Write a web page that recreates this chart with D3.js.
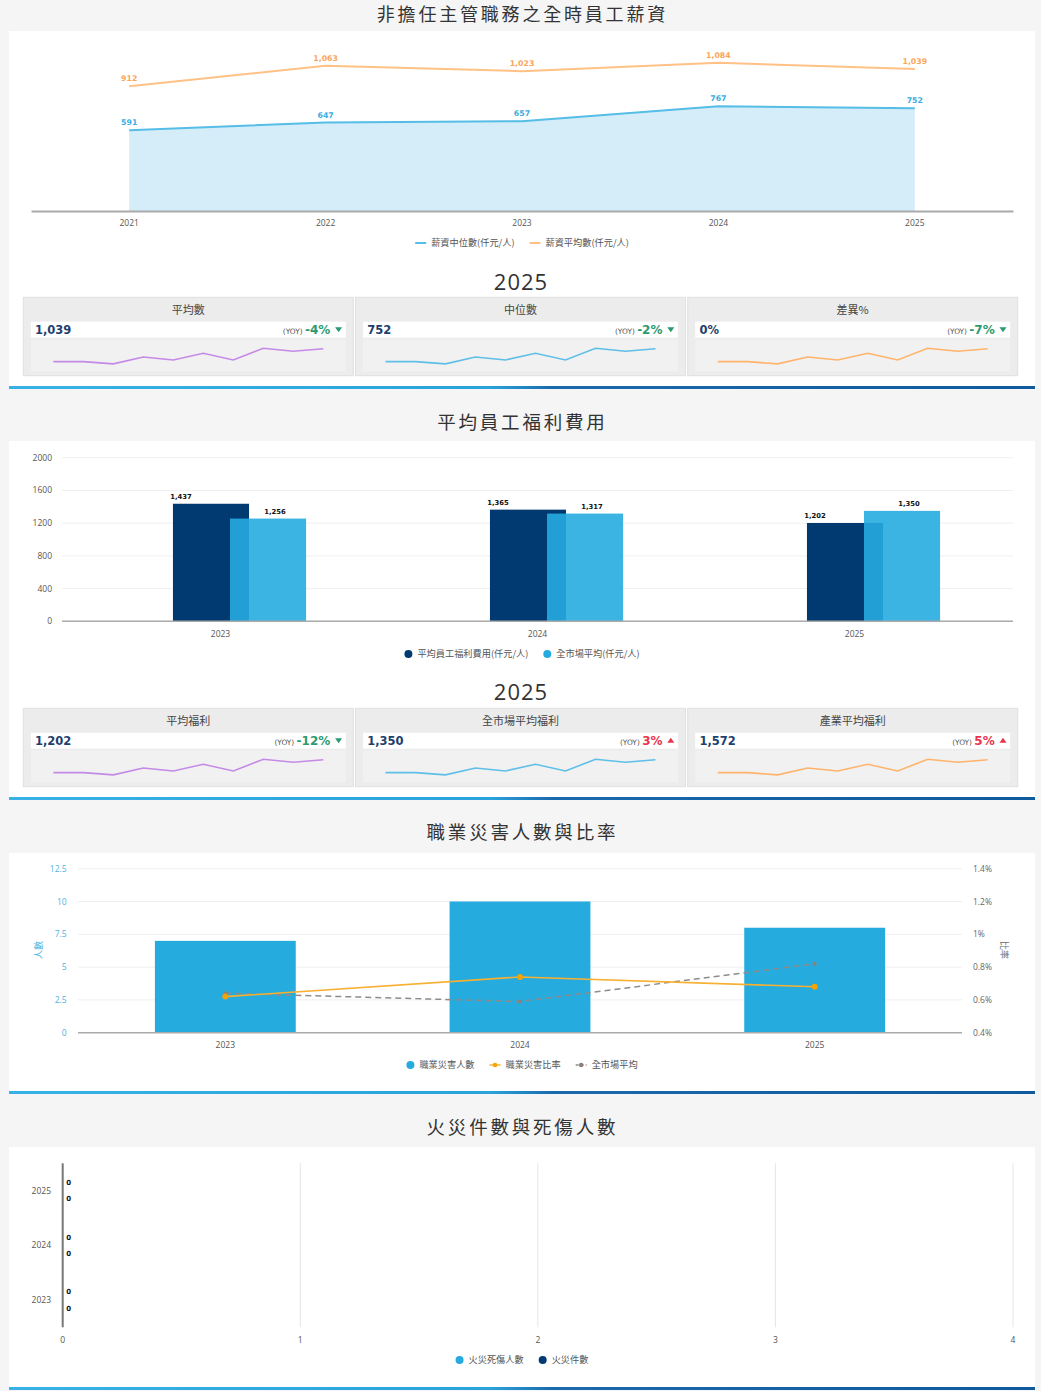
<!DOCTYPE html>
<html><head><meta charset="utf-8">
<script src="https://cdn.jsdelivr.net/npm/d3@7"></script>
<style>
html,body{margin:0;padding:0;background:#f5f5f5;}
svg{display:block;font-family:"Open Sans","Noto Sans CJK TC",sans-serif;}
</style></head><body>
<svg id="c" width="1041" height="1391"></svg>
<script>
// ---------------- DATA ----------------
const sectionTitles = ["非擔任主管職務之全時員工薪資","平均員工福利費用","職業災害人數與比率","火災件數與死傷人數"];

const salaryYears = ["2021","2022","2023","2024","2025"];
const salaryMedian = [591,647,657,767,752];
const salaryMean = [912,1063,1023,1084,1039];
const salarySeriesNames = ["薪資中位數(仟元/人)","薪資平均數(仟元/人)"];

const kpiYear = "2025";
const salaryKpiTitles = ["平均數","中位數","差異%"];
const salaryKpiValues = ["1,039","752","0%"];
const salaryKpiYoy = [-4,-2,-7];

const sparkValues = [2.3,2.3,0,7,4,10.7,4,15.7,12.7,15.3];

const benefitYears = ["2023","2024","2025"];
const benefitOwn = [1437,1365,1202];
const benefitMarket = [1256,1317,1350];
const benefitSeriesNames = ["平均員工福利費用(仟元/人)","全市場平均(仟元/人)"];
const benefitTicks = [0,400,800,1200,1600,2000];

const benefitKpiTitles = ["平均福利","全市場平均福利","產業平均福利"];
const benefitKpiValues = ["1,202","1,350","1,572"];
const benefitKpiYoy = [-12,3,5];

const injuryYears = ["2023","2024","2025"];
const injuryCount = [7,10,8];
const injuryRate = [0.62,0.74,0.68];
const marketRate = [0.64,0.59,0.82];
const injurySeriesNames = ["職業災害人數","職業災害比率","全市場平均"];
const injuryLeftTicks = [0,2.5,5,7.5,10,12.5];
const injuryRightTicks = [0.4,0.6,0.8,1.0,1.2,1.4];
const injuryAxisNames = ["人數","比率"];

const fireYears = ["2025","2024","2023"];
const fireCasualties = [0,0,0];
const fireCases = [0,0,0];
const fireSeriesNames = ["火災死傷人數","火災件數"];
const fireTicks = [0,1,2,3,4];

// ---------------- STYLE ----------------
const C = {
  text:"#555", title:"#333", grid:"#efefef", base:"#aaa",
  blueLine:"#55bde6", blueArea:"#d5edf9", orangeLine:"#ffc185", orangeLbl:"#f9a65a", blueLbl:"#3aaee0",
  navy:"#003a70", light:"#26abe0", bar3:"#25abdd", rate:"#f7b032", rateDot:"#f5a300", mkt:"#8c8c8c",
  kpiVal:"#1d3f6e", green:"#2b9a6f", red:"#e8344e",
  spark:["#c48ae6","#5ebfe8","#ffb36b"]
};
const CJK = "'Noto Sans CJK TC','Open Sans',sans-serif";
const DV = "'DejaVu Sans',sans-serif";

const svg = d3.select("#c");
const defs = svg.append("defs");
const grad = defs.append("linearGradient").attr("id","sep").attr("x1","0").attr("x2","1").attr("y1","0").attr("y2","0");
[["0","#38b2e6"],["0.47","#2aa2dc"],["0.53","#1a6aad"],["1","#0e5a9c"]].forEach(s=>grad.append("stop").attr("offset",s[0]).attr("stop-color",s[1]));

// panels
const panels = [[31,386],[441,797],[853,1091],[1147,1387]];
panels.forEach(p=>{
  svg.append("rect").attr("x",9).attr("y",p[0]).attr("width",1026).attr("height",p[1]-p[0]).attr("fill","#fff");
  svg.append("rect").attr("x",9).attr("y",p[1]).attr("width",1026).attr("height",3).attr("fill","url(#sep)");
});
const titleY = [21,429,839,1133.5];
sectionTitles.forEach((t,i)=>{
  svg.append("text").attr("x",521+1.4).attr("y",titleY[i]).attr("text-anchor","middle")
    .attr("font-family",CJK).attr("font-size",i===0?18:18.5).attr("letter-spacing","2.8px").attr("fill",C.title).text(t);
});

// legend helper
function legend(cx, cy, items){
  const g = svg.append("g");
  let x = 0;
  items.forEach(it=>{
    const ig = g.append("g").attr("transform",`translate(${x},0)`);
    let mw;
    if(it.type==="line"){ mw=11; ig.append("line").attr("x1",0).attr("x2",11).attr("y1",0).attr("y2",0).attr("stroke",it.color).attr("stroke-width",2); }
    else if(it.type==="dot"){ mw=8; ig.append("circle").attr("cx",4).attr("cy",0).attr("r",4).attr("fill",it.color); }
    else { mw=11; ig.append("line").attr("x1",0).attr("x2",11).attr("y1",0).attr("y2",0).attr("stroke",it.color).attr("stroke-width",1.5).attr("stroke-dasharray",it.dash||null);
      ig.append("circle").attr("cx",5.5).attr("cy",0).attr("r",2.3).attr("fill",it.dot||it.color); }
    const t = ig.append("text").attr("x",mw+5).attr("y",3.2).attr("font-family",CJK).attr("font-size",9.2).attr("fill",C.text).text(it.label);
    x += mw+5+t.node().getComputedTextLength()+15;
  });
  x -= 15;
  g.attr("transform",`translate(${cx-x/2},${cy})`);
}

// ---------------- CHART 1 ----------------
(function(){
  const x = d3.scaleBand().domain(salaryYears).range([31,1013]);
  const cx = d => x(d)+x.bandwidth()/2;
  const y = d3.scaleLinear().domain([0,1200]).range([211,47]);
  const g = svg.append("g");
  const med = salaryYears.map((d,i)=>({k:d,v:salaryMedian[i]}));
  const mean = salaryYears.map((d,i)=>({k:d,v:salaryMean[i]}));
  g.append("path").datum(med).attr("fill",C.blueArea)
    .attr("d",d3.area().x(d=>cx(d.k)).y0(y(0)).y1(d=>y(d.v)));
  g.append("path").datum(med).attr("fill","none").attr("stroke",C.blueLine).attr("stroke-width",2)
    .attr("d",d3.line().x(d=>cx(d.k)).y(d=>y(d.v)));
  g.append("path").datum(mean).attr("fill","none").attr("stroke",C.orangeLine).attr("stroke-width",2)
    .attr("d",d3.line().x(d=>cx(d.k)).y(d=>y(d.v)));
  const fmt = d3.format(",");
  [[med,C.blueLbl],[mean,C.orangeLbl]].forEach(([data,col])=>{
    g.selectAll(null).data(data).enter().append("text").attr("x",d=>cx(d.k)).attr("y",d=>y(d.v)-5)
      .attr("text-anchor","middle").attr("font-family",DV).attr("font-weight","bold").attr("font-size",7.8)
      .attr("fill",col).text(d=>fmt(d.v));
  });
  const ax = g.append("g").attr("transform",`translate(0,${y(0)})`).call(d3.axisBottom(x).tickSize(0).tickPadding(0));
  ax.select(".domain").attr("stroke",C.base).attr("stroke-width",2);
  ax.selectAll("text").attr("dy",null).attr("y",15).attr("font-size",8.5).attr("fill",C.text).attr("font-family","'Open Sans',sans-serif");
  legend(522,243,[{label:salarySeriesNames[0],type:"line",color:C.blueLine},{label:salarySeriesNames[1],type:"line",color:C.orangeLine}]);
})();

// ---------------- KPI CARDS ----------------
function kpiCards(topY, headY, titles, values, yoy){
  svg.append("text").attr("x",521).attr("y",headY).attr("text-anchor","middle").attr("font-size",22)
    .attr("letter-spacing","1px").attr("fill",C.title).text(kpiYear);
  const sx = d3.scaleLinear().domain([0,sparkValues.length-1]);
  const sy = d3.scaleLinear().domain(d3.extent(sparkValues));
  titles.forEach((t,i)=>{
    const x0 = 23.3 + i*332.2, w = 330, h = 78.4;
    const g = svg.append("g").attr("transform",`translate(${x0},${topY})`);
    g.append("rect").attr("width",w).attr("height",h).attr("fill","#ececec").attr("stroke","#e0e0e0");
    g.append("text").attr("x",w/2).attr("y",16.5).attr("text-anchor","middle").attr("font-family",CJK)
      .attr("font-size",11).attr("fill","#444").text(t);
    g.append("rect").attr("x",7.5).attr("y",24.4).attr("width",w-15).attr("height",16).attr("fill","#fff");
    g.append("rect").attr("x",7.5).attr("y",42).attr("width",w-15).attr("height",32).attr("fill","#f1f1f1");
    g.append("text").attr("x",11.7).attr("y",36.3).attr("font-family",DV).attr("font-weight","bold")
      .attr("font-size",11.5).attr("fill",C.kpiVal).text(values[i]);
    const v = yoy[i], col = v<0?C.green:C.red, right = w-7.5;
    const tx = g.append("text").attr("x",right-15.5).attr("y",36.3).attr("text-anchor","end");
    tx.append("tspan").attr("font-family",DV).attr("font-size",7.4).attr("fill","#555").text("(YOY) ");
    tx.append("tspan").attr("font-family",DV).attr("font-weight","bold").attr("font-size",12).attr("fill",col).text(v+"%");
    const tcx = right-7.2, tcy = 32.2;
    const tri = v<0 ? `M${tcx-3.5},${tcy-2.2}L${tcx+3.5},${tcy-2.2}L${tcx},${tcy+2.8}Z` : `M${tcx-3.5},${tcy+2.2}L${tcx+3.5},${tcy+2.2}L${tcx},${tcy-2.8}Z`;
    g.append("path").attr("d",tri).attr("fill",col);
    sx.range([30,300]); sy.range([66.6,51]);
    g.append("path").datum(sparkValues).attr("fill","none").attr("stroke",C.spark[i]).attr("stroke-width",1.6)
      .attr("d",d3.line().x((d,j)=>sx(j)).y(d=>sy(d)));
  });
}
kpiCards(297.3, 290, salaryKpiTitles, salaryKpiValues, salaryKpiYoy);

// ---------------- CHART 2 ----------------
(function(){
  const x0 = d3.scaleBand().domain(benefitYears).range([62,1013]);
  const bw = x0.bandwidth();
  const y = d3.scaleLinear().domain([0,2000]).range([621.3,457.7]);
  const g = svg.append("g");
  g.selectAll(null).data(benefitTicks).enter().append("line").attr("x1",62).attr("x2",1013)
    .attr("y1",d=>y(d)).attr("y2",d=>y(d)).attr("stroke",C.grid);
  g.selectAll(null).data(benefitTicks).enter().append("text").attr("x",52).attr("y",d=>y(d)+3)
    .attr("text-anchor","end").attr("font-size",8.5).attr("fill",C.text).text(d=>d);
  const series = [
    {vals:benefitOwn, off:0.35, col:C.navy, op:1, lblDx:8},
    {vals:benefitMarket, off:0.53, col:C.light, op:0.9, lblDx:bw*0.12+7}
  ];
  const fmt = d3.format(",");
  series.forEach(s=>{
    g.selectAll(null).data(benefitYears).enter().append("rect")
      .attr("x",d=>x0(d)+bw*s.off).attr("width",bw*0.24)
      .attr("y",(d,i)=>y(s.vals[i])).attr("height",(d,i)=>y(0)-y(s.vals[i]))
      .attr("fill",s.col).attr("fill-opacity",s.op);
  });
  series.forEach(s=>{
    g.selectAll(null).data(benefitYears).enter().append("text")
      .attr("x",d=>x0(d)+bw*s.off+s.lblDx).attr("y",(d,i)=>y(s.vals[i])-4.5)
      .attr("text-anchor","middle").attr("font-family",DV).attr("font-weight","bold").attr("font-size",6.8)
      .attr("fill","#111").text((d,i)=>fmt(s.vals[i]));
  });
  g.append("line").attr("x1",62).attr("x2",1013).attr("y1",y(0)).attr("y2",y(0)).attr("stroke",C.base).attr("stroke-width",1.5);
  g.selectAll(null).data(benefitYears).enter().append("text").attr("x",d=>x0(d)+bw/2).attr("y",636.5)
    .attr("text-anchor","middle").attr("font-size",8.5).attr("fill",C.text).text(d=>d);
  legend(522,654,[{label:benefitSeriesNames[0],type:"dot",color:C.navy},{label:benefitSeriesNames[1],type:"dot",color:C.light}]);
})();
kpiCards(708.3, 700, benefitKpiTitles, benefitKpiValues, benefitKpiYoy);

// ---------------- CHART 3 ----------------
(function(){
  const x = d3.scaleBand().domain(injuryYears).range([78,962]);
  const bw = x.bandwidth(), cx = d=>x(d)+bw/2;
  const yL = d3.scaleLinear().domain([0,12.5]).range([1032.7,868.7]);
  const yR = d3.scaleLinear().domain([0.4,1.4]).range([1032.7,868.7]);
  const g = svg.append("g");
  g.selectAll(null).data(injuryLeftTicks).enter().append("line").attr("x1",78).attr("x2",962)
    .attr("y1",d=>yL(d)).attr("y2",d=>yL(d)).attr("stroke",C.grid);
  g.selectAll(null).data(injuryLeftTicks).enter().append("text").attr("x",66.7).attr("y",d=>yL(d)+3)
    .attr("text-anchor","end").attr("font-size",8.5).attr("fill","#4ab3e3").text(d=>d);
  g.selectAll(null).data(injuryRightTicks).enter().append("text").attr("x",973).attr("y",d=>yR(d)+3)
    .attr("font-size",8.5).attr("fill","#666").text(d=>(+d.toFixed(1))+"%");
  g.append("text").attr("transform","translate(42,950) rotate(-90)").attr("text-anchor","middle")
    .attr("font-family",CJK).attr("font-size",9).attr("fill","#4ab3e3").text(injuryAxisNames[0]);
  g.append("text").attr("transform","translate(1001,950) rotate(90)").attr("text-anchor","middle")
    .attr("font-family",CJK).attr("font-size",9).attr("fill","#666").text(injuryAxisNames[1]);
  g.selectAll(null).data(injuryYears).enter().append("rect")
    .attr("x",d=>cx(d)-bw*0.239).attr("width",bw*0.478)
    .attr("y",(d,i)=>yL(injuryCount[i])).attr("height",(d,i)=>yL(0)-yL(injuryCount[i])).attr("fill",C.bar3);
  g.append("line").attr("x1",78).attr("x2",962).attr("y1",yL(0)).attr("y2",yL(0)).attr("stroke",C.base).attr("stroke-width",1.5);
  const mk = injuryYears.map((d,i)=>({k:d,v:marketRate[i]}));
  const rt = injuryYears.map((d,i)=>({k:d,v:injuryRate[i]}));
  g.append("path").datum(mk).attr("fill","none").attr("stroke",C.mkt).attr("stroke-width",1.5).attr("stroke-dasharray","6,4")
    .attr("d",d3.line().x(d=>cx(d.k)).y(d=>yR(d.v)));
  g.selectAll(null).data(mk).enter().append("circle").attr("cx",d=>cx(d.k)).attr("cy",d=>yR(d.v)).attr("r",2).attr("fill","#8f7f78");
  g.append("path").datum(rt).attr("fill","none").attr("stroke",C.rate).attr("stroke-width",1.6)
    .attr("d",d3.line().x(d=>cx(d.k)).y(d=>yR(d.v)));
  g.selectAll(null).data(rt).enter().append("circle").attr("cx",d=>cx(d.k)).attr("cy",d=>yR(d.v)).attr("r",3).attr("fill",C.rateDot);
  g.selectAll(null).data(injuryYears).enter().append("text").attr("x",cx).attr("y",1047.5)
    .attr("text-anchor","middle").attr("font-size",8.5).attr("fill",C.text).text(d=>d);
  legend(522,1065,[{label:injurySeriesNames[0],type:"dot",color:C.bar3},
    {label:injurySeriesNames[1],type:"linedot",color:C.rate,dot:C.rateDot},
    {label:injurySeriesNames[2],type:"linedot",color:C.mkt,dash:"3,2",dot:"#8f7f78"}]);
})();

// ---------------- CHART 4 ----------------
(function(){
  const x = d3.scaleLinear().domain([0,4]).range([62.7,1013]);
  const y0 = d3.scaleBand().domain(fireYears).range([1163.3,1327.3]);
  const bw = y0.bandwidth();
  const y1 = d3.scaleBand().domain(fireSeriesNames).range([0.2*bw,0.8*bw]);
  const g = svg.append("g");
  g.selectAll(null).data(fireTicks.filter(d=>d>0)).enter().append("line").attr("x1",x).attr("x2",x)
    .attr("y1",1163.3).attr("y2",1327.3).attr("stroke","#e6e6e6");
  g.selectAll(null).data(fireTicks).enter().append("text").attr("x",x).attr("y",1343)
    .attr("text-anchor","middle").attr("font-size",8.5).attr("fill",C.text).text(d=>d);
  g.selectAll(null).data(fireYears).enter().append("text").attr("x",51).attr("y",d=>y0(d)+bw/2+3)
    .attr("text-anchor","end").attr("font-size",8.5).attr("fill",C.text).text(d=>d);
  const series = [{name:fireSeriesNames[0],vals:fireCasualties,col:C.light},{name:fireSeriesNames[1],vals:fireCases,col:C.navy}];
  series.forEach(s=>{
    g.selectAll(null).data(fireYears).enter().append("rect").attr("x",x(0))
      .attr("y",d=>y0(d)+y1(s.name)).attr("height",y1.bandwidth()).attr("width",(d,i)=>x(s.vals[i])-x(0)).attr("fill",s.col);
    g.selectAll(null).data(fireYears).enter().append("text").attr("x",(d,i)=>x(s.vals[i])+3.5)
      .attr("y",d=>y0(d)+y1(s.name)+y1.bandwidth()/2+2.5).attr("font-family",DV).attr("font-weight","bold")
      .attr("font-size",7).attr("fill","#111").text((d,i)=>s.vals[i]);
  });
  g.append("line").attr("x1",x(0)).attr("x2",x(0)).attr("y1",1163.3).attr("y2",1327.3).attr("stroke","#777").attr("stroke-width",2);
  legend(522,1360,[{label:fireSeriesNames[0],type:"dot",color:C.light},{label:fireSeriesNames[1],type:"dot",color:C.navy}]);
})();
</script>
</body></html>
